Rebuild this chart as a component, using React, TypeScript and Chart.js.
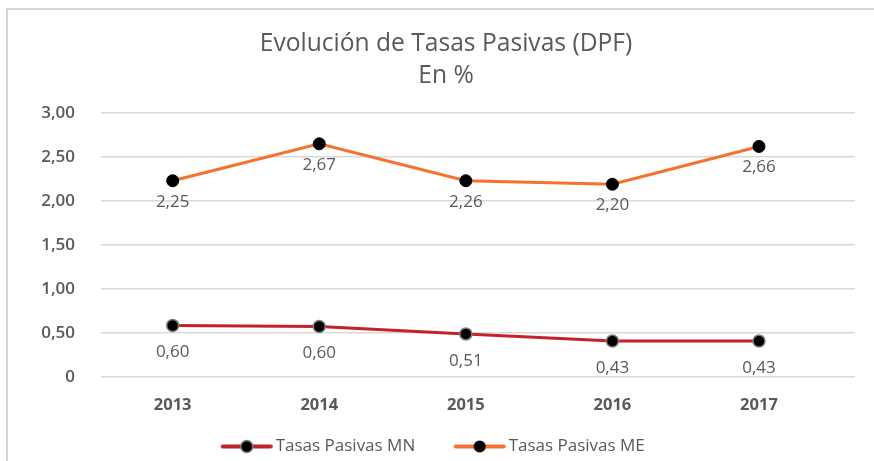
import React, { useEffect, useRef } from 'react';
import { Chart, registerables } from 'chart.js';

Chart.register(...registerables);

const titleLines = ['Evolución de Tasas Pasivas (DPF)', 'En %'];
const categories = ['2013', '2014', '2015', '2016', '2017'];
const seriesNames = ['Tasas Pasivas MN', 'Tasas Pasivas ME'];
const mnValues = [0.585, 0.574, 0.49, 0.41, 0.41];
const meValues = [2.23, 2.65, 2.23, 2.19, 2.62];
const mnLabels = ['0,60', '0,60', '0,51', '0,43', '0,43'];
const meLabels = ['2,25', '2,67', '2,26', '2,20', '2,66'];
const yTicks = [0, 0.5, 1, 1.5, 2, 2.5, 3];

const FONT = "'Open Sans', sans-serif";
const TEXT = '#595959';
const MN_COLOR = '#C1232B';
const ME_COLOR = '#F4722E';

// legend marker: line with a dot, right-shifted inside a wider transparent image
function makeMarker(color: string, ptBorder: string | null) {
  const c = document.createElement('canvas');
  c.width = 75;
  c.height = 17;
  const x = c.getContext('2d')!;
  const a = 22;
  x.strokeStyle = color;
  x.lineWidth = 4;
  x.lineCap = 'round';
  x.beginPath();
  x.moveTo(a + 2, 8.5);
  x.lineTo(a + 50, 8.5);
  x.stroke();
  x.beginPath();
  x.arc(a + 26, 8.5, 6, 0, Math.PI * 2);
  x.fillStyle = '#000';
  x.fill();
  if (ptBorder) {
    x.strokeStyle = ptBorder;
    x.lineWidth = 1.5;
    x.stroke();
  }
  return c;
}

const dataLabelPlugin = {
  id: 'dataLabelPlugin',
  afterDatasetsDraw(chart: any) {
    const ctx = chart.ctx;
    const sets = [mnLabels, meLabels];
    const offs = [27, 21];
    ctx.save();
    ctx.font = `17px ${FONT}`;
    ctx.fillStyle = TEXT;
    ctx.textAlign = 'center';
    ctx.textBaseline = 'middle';
    chart.data.datasets.forEach((_: any, i: number) => {
      const meta = chart.getDatasetMeta(i);
      meta.data.forEach((pt: any, j: number) => {
        ctx.fillText(sets[i][j], pt.x, pt.y + offs[i]);
      });
    });
    ctx.restore();
  },
};

const legendShiftPlugin = {
  id: 'legendShiftPlugin',
  afterLayout(chart: any) {
    const l = chart.legend;
    if (l) {
      l.left -= 21;
      l.right -= 21;
    }
  },
};

export default function App() {
  const ref = useRef<HTMLCanvasElement | null>(null);

  useEffect(() => {
    if (!ref.current) return;
    const markers = [makeMarker(MN_COLOR, '#7F7F7F'), makeMarker(ME_COLOR, null)];
    const chart = new Chart(ref.current, {
      type: 'line',
      data: {
        datasets: [
          {
            label: seriesNames[0],
            data: mnValues.map((v, i) => ({ x: i, y: v })),
            borderColor: MN_COLOR,
            borderWidth: 3,
            pointRadius: 6,
            pointBackgroundColor: '#000',
            pointBorderColor: '#7F7F7F',
            pointBorderWidth: 1.5,
            tension: 0,
          },
          {
            label: seriesNames[1],
            data: meValues.map((v, i) => ({ x: i, y: v })),
            borderColor: ME_COLOR,
            borderWidth: 3,
            pointRadius: 6,
            pointBackgroundColor: '#000',
            pointBorderColor: '#000',
            pointBorderWidth: 1,
            tension: 0,
          },
        ],
      },
      options: {
        responsive: false,
        animation: false,
        layout: { padding: { top: 8, left: 37, right: 19, bottom: -4 } },
        plugins: {
          tooltip: { enabled: false },
          title: {
            display: true,
            text: titleLines,
            color: TEXT,
            font: { family: FONT, size: 24.6, weight: 'normal', lineHeight: 32 / 24.6 },
            padding: { top: 20, bottom: 21 },
          },
          legend: {
            position: 'bottom',
            labels: {
              usePointStyle: true,
              pointStyleWidth: 62,
              padding: 23,
              color: TEXT,
              font: { family: FONT, size: 17 },
              generateLabels: (c: any) =>
                Chart.defaults.plugins.legend.labels
                  .generateLabels(c)
                  .map((l: any, i: number) => ({ ...l, pointStyle: markers[i], fontColor: TEXT })),
            },
          },
        },
        scales: {
          x: {
            type: 'linear',
            min: -0.489,
            max: 4.655,
            grid: { display: false, drawTicks: false },
            border: { display: false },
            afterBuildTicks: (s: any) => {
              s.ticks = categories.map((_, i) => ({ value: i }));
            },
            afterFit: (s: any) => {
              s.height = 38;
            },
            ticks: {
              padding: 18,
              color: TEXT,
              autoSkip: false,
              maxRotation: 0,
              font: { family: FONT, size: 16.5, weight: 'bold' },
              callback: (v: any) => categories[Math.round(Number(v))] ?? '',
            },
          },
          y: {
            type: 'linear',
            min: 0,
            max: 3,
            grid: { color: '#D9D9D9', lineWidth: 1.5, drawTicks: false },
            border: { display: false },
            afterBuildTicks: (s: any) => {
              s.ticks = yTicks.map((v) => ({ value: v }));
            },
            afterFit: (s: any) => {
              s.width = 64;
            },
            ticks: {
              padding: 26,
              color: TEXT,
              font: { family: FONT, size: 17, weight: 600 },
              callback: (v: any) => (v === 0 ? '0' : Number(v).toFixed(2).replace('.', ',')),
            },
          },
        },
      },
      plugins: [dataLabelPlugin, legendShiftPlugin],
    } as any);
    return () => chart.destroy();
  }, []);

  return (
    <div style={{ position: 'absolute', left: 0, top: 0, width: 874, height: 461, background: '#fff', overflow: 'hidden' }}>
      <div
        style={{
          position: 'absolute',
          left: 6,
          top: 8,
          width: 900,
          height: 500,
          borderTop: '2px solid #D6D6D6',
          borderLeft: '2px solid #D6D6D6',
        }}
      />
      <canvas ref={ref} width={874} height={461} style={{ position: 'absolute', left: 0, top: 0 }} />
    </div>
  );
}
